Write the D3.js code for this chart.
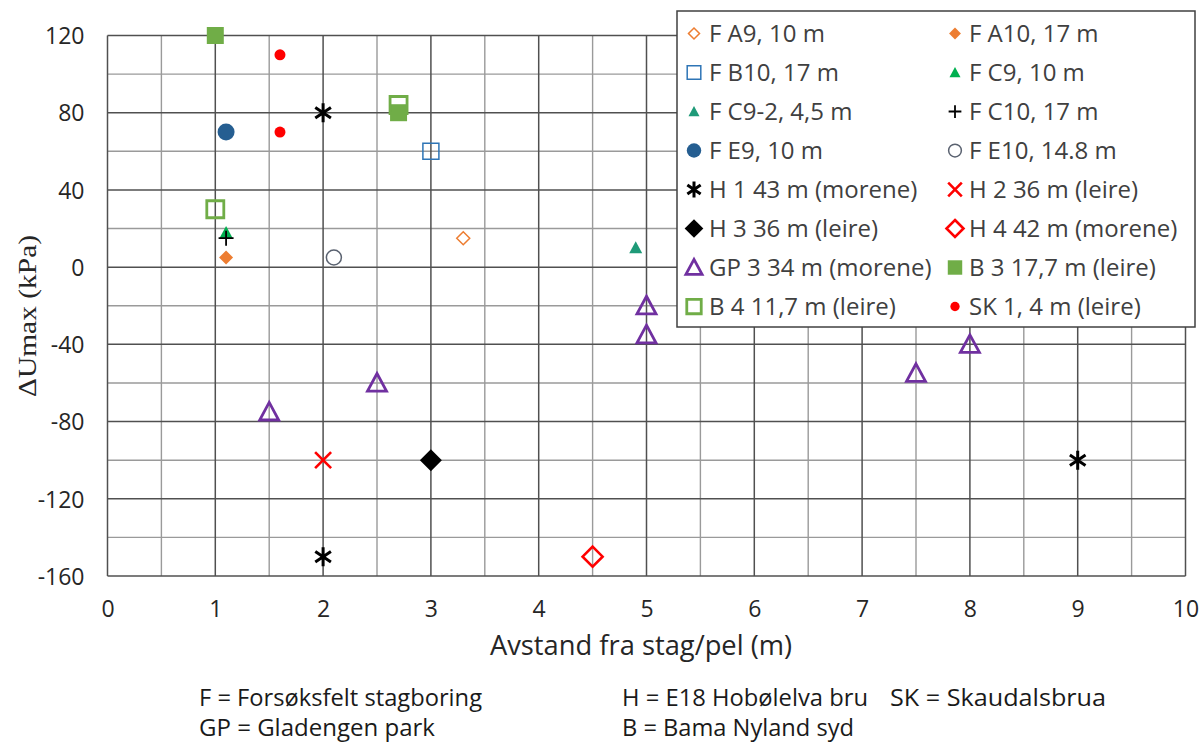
<!DOCTYPE html>
<html>
<head>
<meta charset="utf-8">
<script src="https://cdn.jsdelivr.net/npm/d3@7"></script>
<style>
  html, body { margin: 0; padding: 0; background: #fff; }
  svg { display: block; }
</style>
</head>
<body>
<svg id="chart" width="1199" height="742"></svg>
<script>
// Series labels, in legend order
const seriesNames = [
  "F A9, 10 m", "F A10, 17 m",
  "F B10, 17 m", "F C9, 10 m",
  "F C9-2, 4,5 m", "F C10, 17 m",
  "F E9, 10 m", "F E10, 14.8 m",
  "H 1 43 m (morene)", "H 2 36 m (leire)",
  "H 3 36 m (leire)", "H 4 42 m (morene)",
  "GP 3 34 m (morene)", "B 3 17,7 m (leire)",
  "B 4 11,7 m (leire)", "SK 1, 4 m (leire)"
];

// Distance from anchor/pile (m) and ΔUmax (kPa) per series
const fA9X  = [3.3],  fA9Y  = [15];
const fA10X = [1.1],  fA10Y = [5];
const fB10X = [3.0],  fB10Y = [60];
const fC9X  = [1.1],  fC9Y  = [18];
const fC92X = [4.9],  fC92Y = [10];
const fC10X = [1.1],  fC10Y = [15];
const fE9X  = [1.1],  fE9Y  = [70];
const fE10X = [2.1],  fE10Y = [5];
const h1X   = [2, 2, 9],  h1Y = [80, -150, -100];
const h2X   = [2],    h2Y   = [-100];
const h3X   = [3],    h3Y   = [-100];
const h4X   = [4.5],  h4Y   = [-150];
const gp3X  = [1.5, 2.5, 5, 5, 7.5, 8], gp3Y = [-75, -60, -20, -35, -55, -40];
const b3X   = [1, 2.7],  b3Y = [120, 80];
const b4X   = [1, 2.7],  b4Y = [30, 84];
const sk1X  = [1.6, 1.6], sk1Y = [110, 70];

// Axis ticks
const xTicks = [0, 1, 2, 3, 4, 5, 6, 7, 8, 9, 10];
const yTicks = [120, 80, 40, 0, -40, -80, -120, -160];

// Footnote texts
const notesRow1 = ["F = Forsøksfelt stagboring", "H = E18 Hobølelva bru", "SK = Skaudalsbrua"];
const notesRow2 = ["GP = Gladengen park", "B = Bama Nyland syd"];

const seriesX = [fA9X, fA10X, fB10X, fC9X, fC92X, fC10X, fE9X, fE10X, h1X, h2X, h3X, h4X, gp3X, b3X, b4X, sk1X];
const seriesY = [fA9Y, fA10Y, fB10Y, fC9Y, fC92Y, fC10Y, fE9Y, fE10Y, h1Y, h2Y, h3Y, h4Y, gp3Y, b3Y, b4Y, sk1Y];

// Marker styles: shape, size (px), colour, filled, stroke width
const styles = [
  {shape: "diamond",  size: 13, color: "#ED7D31", fill: false, sw: 1.5},
  {shape: "diamond",  size: 14, color: "#ED7D31", fill: true,  sw: 0},
  {shape: "square",   size: 16, color: "#2E75B6", fill: false, sw: 1.5},
  {shape: "triangle", size: 13, color: "#00B050", fill: true,  sw: 0},
  {shape: "triangle", size: 13, color: "#1E9A78", fill: true,  sw: 0},
  {shape: "plus",     size: 15, color: "#000000", fill: false, sw: 1.8},
  {shape: "circle",   size: 17, color: "#255E91", fill: true,  sw: 0},
  {shape: "circle",   size: 15, color: "#5A6270", fill: false, sw: 1.5},
  {shape: "asterisk", size: 19, color: "#000000", fill: false, sw: 3},
  {shape: "cross",    size: 16, color: "#FF0000", fill: false, sw: 2.6},
  {shape: "diamond",  size: 22, color: "#000000", fill: true,  sw: 0},
  {shape: "diamond",  size: 20, color: "#FF0000", fill: false, sw: 2.6},
  {shape: "triangle", size: 19, color: "#7030A0", fill: false, sw: 2.8},
  {shape: "square",   size: 17, color: "#70AD47", fill: true,  sw: 0},
  {shape: "square",   size: 17, color: "#70AD47", fill: false, sw: 2.8},
  {shape: "circle",   size: 11, color: "#FF0000", fill: true,  sw: 0}
];

function markerPath(shape, s) {
  const h = s / 2;
  const p = d3.path();
  switch (shape) {
    case "diamond":
      p.moveTo(0, -h); p.lineTo(h, 0); p.lineTo(0, h); p.lineTo(-h, 0); p.closePath(); break;
    case "square":
      p.rect(-h, -h, s, s); break;
    case "triangle":
      p.moveTo(0, -h); p.lineTo(h, h * 0.85); p.lineTo(-h, h * 0.85); p.closePath(); break;
    case "circle":
      p.arc(0, 0, h, 0, 2 * Math.PI); break;
    case "plus":
      p.moveTo(-h, 0); p.lineTo(h, 0); p.moveTo(0, -h); p.lineTo(0, h); break;
    case "cross":
      p.moveTo(-h, -h); p.lineTo(h, h); p.moveTo(h, -h); p.lineTo(-h, h); break;
    case "asterisk": {
      p.moveTo(0, -h); p.lineTo(0, h);
      const dx = h * Math.cos(Math.PI / 6) * 0.95, dy = h * Math.sin(Math.PI / 6) * 1.1;
      p.moveTo(-dx, -dy); p.lineTo(dx, dy);
      p.moveTo(dx, -dy); p.lineTo(-dx, dy);
      break;
    }
  }
  return p.toString();
}

function drawMarker(sel, st, scale) {
  const s = st.size * (scale || 1);
  const lineShape = st.shape === "plus" || st.shape === "cross" || st.shape === "asterisk";
  sel.append("path")
    .attr("d", markerPath(st.shape, s))
    .attr("fill", (st.fill && !lineShape) ? st.color : "none")
    .attr("stroke", st.fill ? "none" : st.color)
    .attr("stroke-width", st.sw)
    .attr("stroke-linejoin", "miter");
}

const svg = d3.select("#chart");
const plotL = 107.5, plotR = 1185.5, plotT = 35.5, plotB = 576;

const x = d3.scaleLinear().domain([0, 10]).range([plotL, plotR]);
const y = d3.scaleLinear().domain([-160, 120]).range([plotB, plotT]);

const grid = svg.append("g");
// minor grid
d3.range(0.5, 10, 1).forEach(v => {
  grid.append("line").attr("x1", x(v)).attr("x2", x(v)).attr("y1", plotT).attr("y2", plotB)
    .attr("stroke", "#9a9a9a").attr("stroke-width", 1.4);
});
d3.range(-140, 120, 40).forEach(v => {
  grid.append("line").attr("x1", plotL).attr("x2", plotR).attr("y1", y(v)).attr("y2", y(v))
    .attr("stroke", "#9a9a9a").attr("stroke-width", 1.4);
});
// major grid
xTicks.forEach(v => {
  grid.append("line").attr("x1", x(v)).attr("x2", x(v)).attr("y1", plotT).attr("y2", plotB)
    .attr("stroke", "#505050").attr("stroke-width", 1.5);
});
yTicks.forEach(v => {
  grid.append("line").attr("x1", plotL).attr("x2", plotR).attr("y1", y(v)).attr("y2", y(v))
    .attr("stroke", "#505050").attr("stroke-width", 1.5);
});

// axes (labels only; lines come from the grid); plain hyphen for negatives
const plainNum = d => String(d);
const xAxis = svg.append("g").attr("transform", `translate(0,${plotB})`)
  .call(d3.axisBottom(x).tickValues(xTicks).tickSize(0).tickPadding(25).tickFormat(plainNum));
const yAxis = svg.append("g").attr("transform", `translate(${plotL},0)`)
  .call(d3.axisLeft(y).tickValues(yTicks).tickSize(0).tickPadding(23).tickFormat(plainNum));
[xAxis, yAxis].forEach(a => {
  a.select(".domain").remove();
  a.selectAll("text").attr("font-family", "'Open Sans', sans-serif").attr("font-size", 23).attr("fill", "#262626");
});
yAxis.selectAll("text").attr("dy", "0.36em");

// axis titles
svg.append("text").attr("x", 641).attr("y", 655).attr("text-anchor", "middle")
  .attr("font-family", "'Open Sans', sans-serif").attr("font-size", 27.3).attr("fill", "#262626")
  .text("Avstand fra stag/pel (m)");
svg.append("text").attr("transform", "translate(36,316) rotate(-90)").attr("text-anchor", "middle")
  .attr("font-family", "'Liberation Serif', serif").attr("font-size", 26).attr("fill", "#262626")
  .attr("textLength", 162).attr("lengthAdjust", "spacingAndGlyphs")
  .text("ΔUmax (kPa)");

// data markers
const marks = svg.append("g");
seriesNames.forEach((name, i) => {
  const pts = seriesX[i].map((xv, j) => ({x: xv, y: seriesY[i][j]}));
  const g = marks.append("g").attr("class", "series");
  pts.forEach(pt => {
    const m = g.append("g").attr("transform", `translate(${x(pt.x)},${y(pt.y)})`);
    drawMarker(m, styles[i]);
  });
});

// legend
const lg = svg.append("g");
lg.append("rect").attr("x", 677).attr("y", 11).attr("width", 518).attr("height", 316)
  .attr("fill", "#fff").attr("stroke", "#404040").attr("stroke-width", 1.5);
seriesNames.forEach((name, i) => {
  const col = i % 2, row = Math.floor(i / 2);
  const cy = 33.5 + row * 39;
  const mx = col === 0 ? 694 : 955;
  const tx = col === 0 ? 709 : 969;
  const m = lg.append("g").attr("transform", `translate(${mx},${cy})`);
  drawMarker(m, styles[i], 0.85);
  lg.append("text").attr("x", tx).attr("y", cy).attr("dy", "0.36em")
    .attr("font-family", "'Open Sans', sans-serif").attr("font-size", 24).attr("fill", "#404040")
    .text(name);
});

// footnotes
const noteX = [199, 622, 890];
const noteW1 = [283, 246, 216];
const noteW2 = [236, 232];
notesRow1.forEach((t, i) => {
  svg.append("text").attr("x", noteX[i]).attr("y", 706)
    .attr("font-family", "'Open Sans', sans-serif").attr("font-size", 23).attr("fill", "#1a1a1a")
    .attr("textLength", noteW1[i]).attr("lengthAdjust", "spacingAndGlyphs").text(t);
});
notesRow2.forEach((t, i) => {
  svg.append("text").attr("x", noteX[i]).attr("y", 736)
    .attr("font-family", "'Open Sans', sans-serif").attr("font-size", 23).attr("fill", "#1a1a1a")
    .attr("textLength", noteW2[i]).attr("lengthAdjust", "spacingAndGlyphs").text(t);
});
</script>
</body>
</html>
